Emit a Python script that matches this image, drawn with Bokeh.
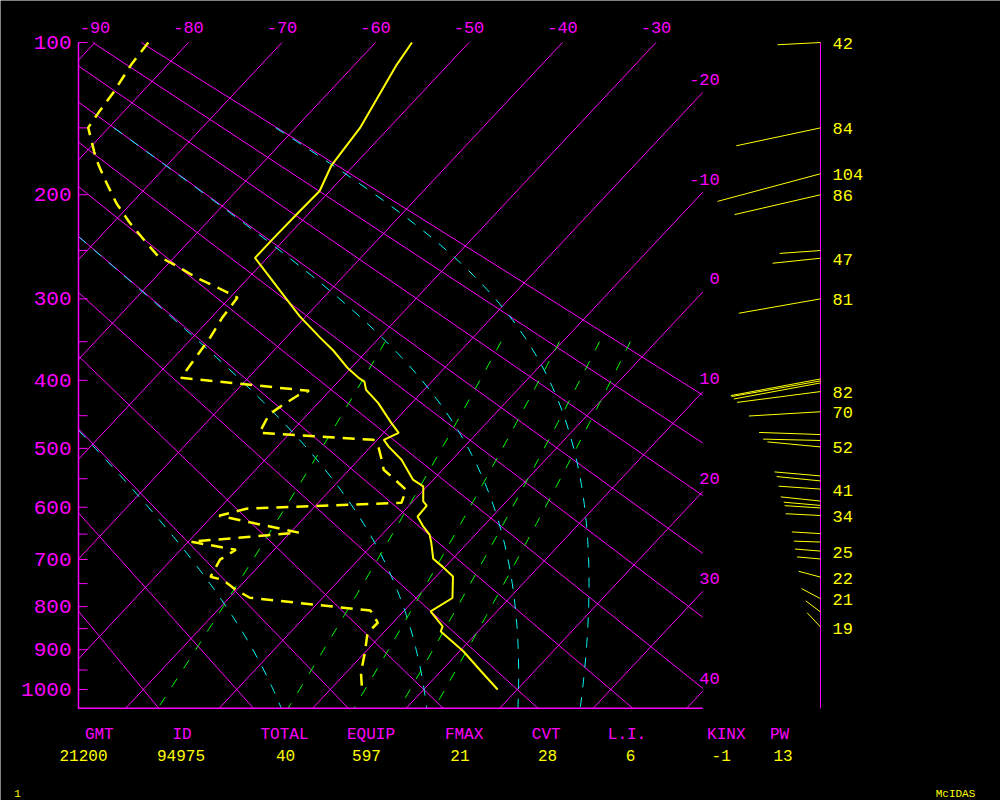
import math
import numpy as np
from bokeh.plotting import figure
from bokeh.models import Range1d
from bokeh.embed import file_html
from bokeh.resources import INLINE
from bokeh.core.properties import value

# ---------------- data ----------------
temp_p = [100, 111.7, 150, 176.7, 196.9, 214.2, 239.3, 257.2, 291.3, 319.5, 345.3, 361.3, 383.9, 397.7,
          401.7, 413, 431.4, 460.6, 475.8, 486.5, 497.2, 518.4, 551.4, 563.2, 589.6, 597.2, 616.9, 635.5,
          651, 666.8, 698.4, 715.6, 735, 781, 810.6, 845, 856.6, 903.7, 953.2, 1000]
temp_t = [-56.1, -55.5, -53.1, -52.4, -51.1, -51.2, -51.3, -51.3, -45.3, -40.7, -36.3, -33.6, -30.3, -28.0,
          -27.2, -26.2, -23.6, -20.2, -18.4, -19.3, -18.1, -15.4, -12.2, -10.4, -8.9, -8.1, -8.0, -6.4,
          -4.9, -3.9, -2.1, -0.2, 1.8, 3.9, 2.9, 5.7, 6.0, 10.4, 14.3, 17.9]

dewp_p = [100, 111.7, 128.1, 139.8, 149.8, 166.9, 176.7, 190.9, 207.1, 223.2, 243.7, 255.2, 265.5, 277.9,
          288.2, 298.6, 321.8, 345.3, 367.6, 396.5, 414.4, 420.1, 434.3, 448.4, 475.8, 486.5, 497.2, 513.5,
          534.9, 543.1, 569, 591.9, 602.6, 615.6, 647.2, 664.8, 680.6, 700.4, 735.7, 741.9, 763.1, 780.4,
          808.9, 836.5, 859.6, 906.9, 956.8, 1000]
dewp_t = [-84.3, -83.9, -83.0, -82.6, -82.2, -79.1, -77.3, -74.6, -71.6, -68.4, -64.2, -61.9, -58.8, -55.4,
          -52.2, -49.2, -48.8, -48.1, -47.7, -47.2, -32.2, -32.9, -33.6, -34.1, -33.3, -20.4, -19.2, -17.9,
          -16.3, -15.2, -11.9, -11.1, -27.1, -29.3, -19.1, -29.7, -24.1, -24.8, -24.1, -22.5, -20.1, -17.8,
          -3.6, -1.6, -1.7, 0.0, 1.6, 3.4]

wind_p = [100, 150, 183.2, 200, 250, 257.5, 300, 398.1, 400.7, 403.5, 415.4, 444.2, 478.4, 487.6, 497.7,
          545.2, 553.7, 567.8, 588.9, 596.7, 601.3, 615.1, 649.1, 665.4, 683.2, 699, 736.3, 782.5, 811.9, 846.3]
wind_spd = [42, 84, 104, 86, 40, 47, 81, 89, 88, 86, 82, 70, 60, 56, 52,
            45, 43, 41, 39, 36, 35, 34, 28, 26, 25, 23, 22, 21, 18, 19]
wind_dir = [267, 258, 255, 257, 266, 264, 260, 259.5, 260, 259.5, 262.6, 266.6, 272, 271.4, 275.4,
            275, 275.7, 274, 276, 275, 273.7, 272.9, 273.4, 272, 274.6, 275, 285, 298, 307, 317]
wind_labelled = [True, True, True, True, False, True, True, False, False, False, True, True, False, False, True,
                 False, False, True, False, False, False, True, False, False, True, False, True, True, False, True]

isotherms = list(range(-90, 41, 10))          # deg C
dry_adiabats = list(range(-20, 91, 10))       # theta, deg C
moist_adiabats = [0, 30, 60, 90]              # theta-e, deg C
mixing_ratios = [1, 3, 5, 7, 9]               # g/kg
pressure_ticks = list(range(100, 1001, 50))   # hPa
pressure_labels = list(range(100, 1001, 100))
top_labels = [-90, -80, -70, -60, -50, -40, -30]
right_labels = [-20, -10, 0, 10, 20, 30, 40]

stat_names = ["GMT", "ID", "TOTAL", "EQUIP", "FMAX", "CVT", "L.I.", "KINX", "PW"]
stat_values = ["21200", "94975", "40", "597", "21", "28", "6", "-1", "13"]
corner_texts = ["1", "McIDAS"]

# ---------------- layout (screen pixels) ----------------
W, H = 1000, 800
DIAG_LEFT_PX, DIAG_TOP_PX = 78.0, 42.0
REF_T, REF_T_PX = -30.0, 655.5      # isotherm -30 meets the top edge here
PX_X, PX_Y = 9.35, 186.5            # px per deg (at 100 hPa) and per unit of p**kappa
WIND_STAFF_PX = 820.0
WIND_SCALE = 1.025                  # px per knot
stat_name_px = [98.8, 181.5, 284.0, 370.5, 463.6, 545.7, 626.5, 725.8, 779.0]
stat_value_px = [83.0, 180.5, 285.0, 366.0, 459.4, 547.0, 630.0, 720.7, 782.5]
STAT_NAME_Y, STAT_VALUE_Y = 734.0, 755.0
corner_px = [(17.0, 793.0), (955.0, 793.0)]

MAG, YEL, CYA, GRN = "#ff00ff", "#ffff00", "#00ffff", "#00ff00"
FONT = value("Liberation Mono")

# ---------------- projection (Stuve diagram, skewed) ----------------
KAPPA = 2.0 / 7.0
SKEW = 18.69
P_TOP, P_BOT = 100.0, 1050.0
PK_TOP = P_TOP ** KAPPA
PK_BOT = P_BOT ** KAPPA


def px_to_x(px):
    return REF_T + (np.asarray(px, float) - REF_T_PX) / PX_X


def px_to_y(py):
    return PK_TOP + (np.asarray(py, float) - DIAG_TOP_PX) / PX_Y


X_LEFT = float(px_to_x(DIAG_LEFT_PX))
X_RIGHT = -25.0


def pk(p):
    return np.asarray(p, float) ** KAPPA


def skew_x(t, p):
    return np.asarray(t, float) - SKEW * (pk(p) - PK_TOP)


def lb_clip(x0, y0, x1, y1, xmin, xmax, ymin, ymax):
    dx, dy = x1 - x0, y1 - y0
    t0, t1 = 0.0, 1.0
    for pp, qq in ((-dx, x0 - xmin), (dx, xmax - x0), (-dy, y0 - ymin), (dy, ymax - y0)):
        if pp == 0:
            if qq < 0:
                return None
        else:
            r = qq / pp
            if pp < 0:
                if r > t1:
                    return None
                t0 = max(t0, r)
            else:
                if r < t0:
                    return None
                t1 = min(t1, r)
    return x0 + t0 * dx, y0 + t0 * dy, x0 + t1 * dx, y0 + t1 * dy, t0 > 0, t1 < 1


def clip_poly(xs, ys, out_x, out_y):
    box = (X_LEFT, X_RIGHT, PK_TOP, PK_BOT)
    cx, cy = [], []
    for i in range(len(xs) - 1):
        r = lb_clip(float(xs[i]), float(ys[i]), float(xs[i + 1]), float(ys[i + 1]), *box)
        if r is None:
            if len(cx) > 1:
                out_x.append(cx); out_y.append(cy)
            cx, cy = [], []
            continue
        ax, ay, bx, by, cut0, cut1 = r
        if not cx or cut0:
            if len(cx) > 1:
                out_x.append(cx); out_y.append(cy)
            cx, cy = [ax], [ay]
        cx.append(bx); cy.append(by)
        if cut1:
            out_x.append(cx); out_y.append(cy)
            cx, cy = [], []
    if len(cx) > 1:
        out_x.append(cx); out_y.append(cy)


def sat_vp(t):
    return 6.112 * math.exp(17.67 * t / (t + 243.5))


def theta_e(t, p):
    tk = t + 273.15
    es = sat_vp(t)
    rs = 0.622 * es / (p - es)
    return tk * (1000.0 / p) ** KAPPA * math.exp(2.5e6 * rs / (1004.0 * tk))


def moist_t(the_k, p):
    lo, hi = -120.0, 50.0
    for _ in range(60):
        mid = 0.5 * (lo + hi)
        if theta_e(mid, p) < the_k:
            lo = mid
        else:
            hi = mid
    return 0.5 * (lo + hi)


def mixing_t(r, p):
    e = r * p / (622.0 + r)
    a = math.log(e / 6.112)
    return 243.5 * a / (17.67 - a)


# ---------------- figure: whole canvas is the frame ----------------
p = figure(frame_width=W, frame_height=H,
           x_range=Range1d(float(px_to_x(0)), float(px_to_x(W))),
           y_range=Range1d(float(px_to_y(H)), float(px_to_y(0))),
           output_backend="svg", toolbar_location=None,
           x_axis_location=None, y_axis_location=None,
           min_border_left=0, min_border_right=0, min_border_top=0, min_border_bottom=0,
           background_fill_color="black", border_fill_color="black", outline_line_color=None)
p.grid.visible = False

# isotherms
ix, iy = [], []
for t in isotherms:
    ps = [P_BOT, P_TOP]
    clip_poly(skew_x([t, t], ps), pk(ps), ix, iy)
p.multi_line(ix, iy, line_color=MAG, line_width=1)

# dry adiabats (straight lines in a Stuve diagram)
ax_, ay_ = [], []
for th in dry_adiabats:
    ps = np.array([P_BOT, P_TOP])
    ts = (th + 273.15) * (ps / 1000.0) ** KAPPA - 273.15
    clip_poly(skew_x(ts, ps), pk(ps), ax_, ay_)
p.multi_line(ax_, ay_, line_color=MAG, line_width=1)

# moist adiabats
mx, my = [], []
ps_m = np.arange(150.0, 1050.01, 5.0)
for the in moist_adiabats:
    ts = [moist_t(the + 273.15, pp) for pp in ps_m]
    clip_poly(skew_x(ts, ps_m), pk(ps_m), mx, my)
p.multi_line(mx, my, line_color=CYA, line_width=1, line_dash="10 10")

# mixing ratio lines
rx, ry = [], []
ps_r = np.arange(350.0, 1050.01, 10.0)
for r in mixing_ratios:
    ts = [mixing_t(r, pp) for pp in ps_r]
    clip_poly(skew_x(ts, ps_r), pk(ps_r), rx, ry)
p.multi_line(rx, ry, line_color=GRN, line_width=1, line_dash="10 12")

# diagram border (pressure axis + bottom line)
p.line([X_LEFT, X_LEFT, X_RIGHT], [PK_TOP, PK_BOT, PK_BOT], line_color=MAG, line_width=1.5)

# pressure ticks and labels
tick_y = pk(pressure_ticks)
p.segment(x0=[X_LEFT] * len(tick_y), y0=tick_y, x1=[X_LEFT + 9.0 / PX_X] * len(tick_y), y1=tick_y,
          line_color=MAG, line_width=1)
p.text(x=[X_LEFT] * len(pressure_labels), y=pk(pressure_labels), text=[str(v) for v in pressure_labels],
       x_offset=-7, text_align="right", text_baseline="middle",
       text_color=MAG, text_font=FONT, text_font_size="21px")

# sounding
p.line(skew_x(temp_t, temp_p), pk(temp_p), line_color=YEL, line_width=2)
p.line(skew_x(dewp_t, dewp_p), pk(dewp_p), line_color=YEL, line_width=2.5, line_dash="12 8")

# temperature labels
p.text(x=top_labels, y=[PK_TOP] * len(top_labels), text=[str(v) for v in top_labels],
       y_offset=-15, text_align="center", text_baseline="middle",
       text_color=MAG, text_font=FONT, text_font_size="17px")
pk_right = [PK_TOP + (t - X_RIGHT) / SKEW for t in right_labels]
p.text(x=[X_RIGHT] * len(right_labels), y=pk_right, text=[str(v) for v in right_labels],
       x_offset=17, y_offset=-13, text_align="right", text_baseline="middle",
       text_color=MAG, text_font=FONT, text_font_size="17px")

# wind profile
X_W = float(px_to_x(WIND_STAFF_PX))
p.segment(x0=[X_W], y0=[PK_TOP], x1=[X_W], y1=[PK_BOT], line_color=MAG, line_width=1)
wy = pk(wind_p)
rad = np.radians(wind_dir)
ln = WIND_SCALE * np.asarray(wind_spd, float)
wx1 = X_W + ln * np.sin(rad) / PX_X
wy1 = wy - ln * np.cos(rad) / PX_Y
p.segment(x0=[X_W] * len(wind_p), y0=wy, x1=wx1, y1=wy1, line_color=YEL, line_width=1)
lab_y = [y for y, f in zip(wy, wind_labelled) if f]
lab_t = [str(s) for s, f in zip(wind_spd, wind_labelled) if f]
p.text(x=[X_W] * len(lab_y), y=lab_y, text=lab_t, x_offset=12, y_offset=1,
       text_align="left", text_baseline="middle",
       text_color=YEL, text_font=FONT, text_font_size="17px")

# statistics strip
p.text(x=px_to_x(stat_name_px), y=[float(px_to_y(STAT_NAME_Y))] * len(stat_names), text=stat_names,
       text_align="center", text_baseline="middle", text_color=MAG, text_font=FONT, text_font_size="16px")
p.text(x=px_to_x(stat_value_px), y=[float(px_to_y(STAT_VALUE_Y))] * len(stat_values), text=stat_values,
       text_align="center", text_baseline="middle", text_color=YEL, text_font=FONT, text_font_size="16px")
p.text(x=px_to_x([c[0] for c in corner_px]), y=px_to_y([c[1] for c in corner_px]), text=corner_texts,
       text_align="center", text_baseline="middle", text_color=YEL, text_font=FONT, text_font_size="11px")

html = file_html(p, INLINE)
html = html.replace("<body>", '<body style="background-color:#000000;">', 1)
open("out.html", "w").write(html)
